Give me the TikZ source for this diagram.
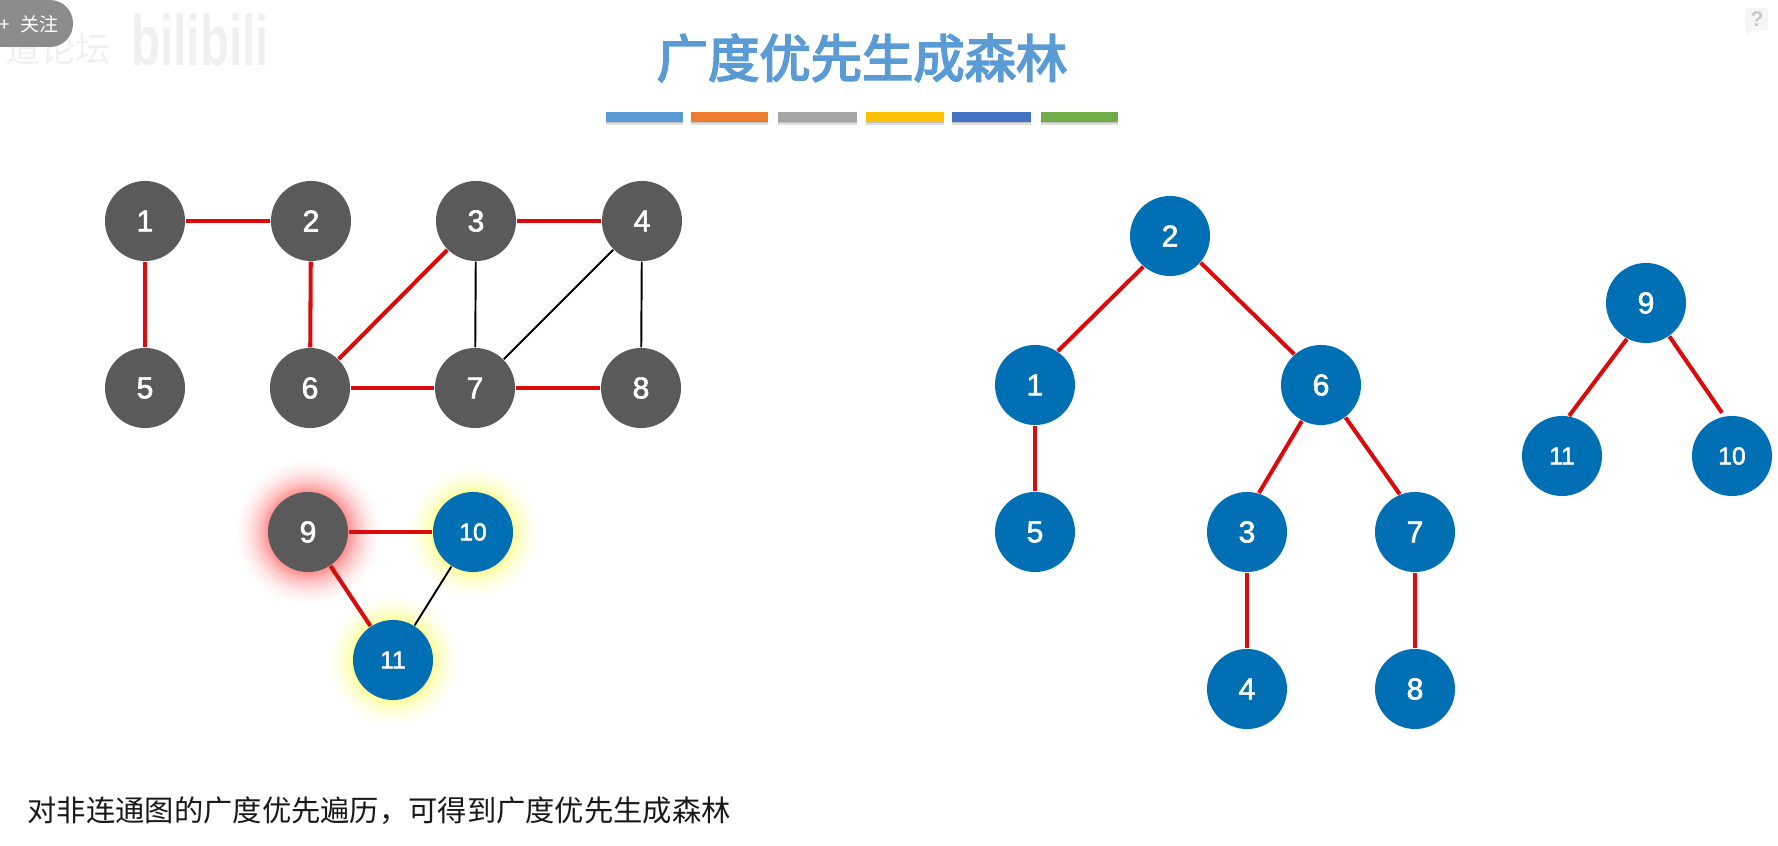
\documentclass[tikz,border=0pt]{standalone}
\usepackage{fontspec}
\setmainfont{Liberation Sans}
\newfontfamily\cjk{Noto Sans CJK SC}
\newfontfamily\cjktitle[FakeBold=3.5]{Noto Sans CJK SC}
\newfontfamily\numfont[FakeBold=2]{Liberation Sans}
\definecolor{vgray}{HTML}{5A5A5A}
\definecolor{vblue}{HTML}{006FB4}
\definecolor{ered}{HTML}{DC0A0A}
\definecolor{titleblue}{HTML}{5B9BD5}
\pgfdeclareradialshading{redglow}{\pgfpointorigin}{color(0bp)=(red!45);color(13.5bp)=(red!45);color(17bp)=(red!24);color(21bp)=(red!8);color(25bp)=(white)}
\pgfdeclareradialshading{yellowglow}{\pgfpointorigin}{color(0bp)=(yellow!40);color(15bp)=(yellow!40);color(18bp)=(yellow!20);color(22bp)=(yellow!6);color(25bp)=(white)}
\tikzset{
  vert/.style={circle,minimum size=0.8cm,inner sep=0pt,text=white,font=\numfont\fontsize{8.6pt}{10pt}\selectfont},
  grayvert/.style={vert,fill=vgray},
  bluevert/.style={vert,fill=vblue},
  smallnum/.style={font=\numfont\fontsize{7pt}{8pt}\selectfont},
  redge/.style={draw=ered,line width=1.15pt},
  bedge/.style={draw=black,line width=0.55pt}
}
\begin{document}
\begin{tikzpicture}[x=0.01cm,y=-0.01cm]
  \useasboundingbox (0,0) rectangle (1778,846);
  % top left overlay
  \node[text=black!6,yscale=1.5,transform shape,font=\fontsize{13.5pt}{16pt}\selectfont\bfseries] (logo) at (200,40) {bilibili};
  \node[inner sep=0pt,text=black!6,font=\cjk\fontsize{10pt}{10pt}\selectfont] (site) at (58,49) {道论坛};
  \fill[black!45,rounded corners=0.23cm] (-40,0) rectangle (73,47);
  \node[inner sep=0pt,text=white,font=\cjk\fontsize{5.4pt}{6pt}\selectfont] (follow) at (29,24) {+\hspace{3pt}关注};
  % top right bubble
  \fill[black!4] (1745,8) rectangle (1768,30);
  \fill[black!4] (1746,30) -- (1746,36) -- (1753,30) -- cycle;
  \node[text=black!22,font=\fontsize{6pt}{7pt}\selectfont\bfseries] (help) at (1757,19) {?};
  % title
  \node[text=titleblue,font=\cjktitle\fontsize{14.6pt}{17pt}\selectfont] (title) at (862,58) {广度优先生成森林};
  \foreach \x/\w/\c in {606/77/5B9BD5,691/77/ED7D31,778/79/A5A5A5,866/78/FFC000,952/79/4472C4,1041/77/70AD47} {
    \definecolor{barc}{HTML}{\c}
    \fill[black!12] (\x,114) rectangle +(\w,11);
    \fill[black!25] (\x,114) rectangle +(\w,9.5);
    \fill[barc] (\x,112) rectangle +(\w,10);
  }
  % glows
  \shade[shading=redglow] (308,532) circle (72);
  \shade[shading=yellowglow] (473,532) circle (66);
  \shade[shading=yellowglow] (393,660) circle (66);
  % left graph
  \foreach \t/\x/\y in {1/145/221,2/311/221,3/476/221,4/642/221,5/145/388,6/310/388,7/475/388,8/641/388,9/308/532}
    \node[grayvert] (g\t) at (\x,\y) {\t};
  \foreach \t/\x/\y in {10/473/532,11/393/660}
    \node[bluevert,smallnum] (g\t) at (\x,\y) {\t};
  \foreach \a/\b in {1/2,1/5,2/6,3/4,3/6,6/7,7/8,9/10,9/11}
    \draw[redge] (g\a) -- (g\b);
  \foreach \a/\b in {3/7,4/7,4/8,10/11}
    \draw[bedge] (g\a) -- (g\b);
  % forest
  \foreach \t/\x/\y in {2/1170/236,1/1035/385,6/1321/385,5/1035/532,3/1247/532,7/1415/532,4/1247/689,8/1415/689,9/1646/303}
    \node[bluevert] (t\t) at (\x,\y) {\t};
  \foreach \t/\x/\y in {11/1562/456,10/1732/456}
    \node[bluevert,smallnum] (t\t) at (\x,\y) {\t};
  \foreach \a/\b in {1/5,3/4,7/8}
    \draw[redge] (t\a) -- (t\b);
  \draw[redge] (t2.229) -- (t1.56);
  \draw[redge] (t2.-41) -- (t6.131);
  \draw[redge] (t6.242) -- (t3.73);
  \draw[redge] (t6.-53) -- (t7.112);
  \draw[redge] (t9.242) -- (t11.80);
  \draw[redge,shorten >=1.1pt] (t9.-55) -- (t10.101);
  % caption
  \node[anchor=west,inner sep=0pt,text=black!90,font=\cjk\fontsize{8.33pt}{10pt}\selectfont] (caption) at (27,811) {对非连通图的广度优先遍历，可得到广度优先生成森林};
\end{tikzpicture}
\end{document}
